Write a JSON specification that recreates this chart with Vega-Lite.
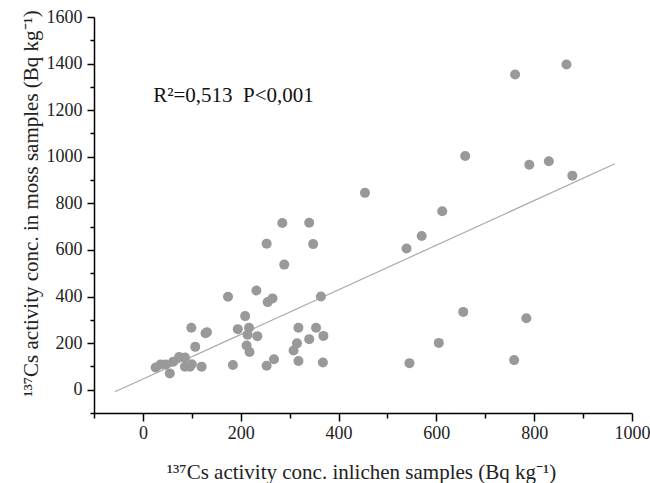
{
  "$schema": "https://vega.github.io/schema/vega-lite/v6.json",
  "width": 538,
  "height": 396,
  "autosize": "none",
  "padding": {"left": 94, "top": 17, "right": 18, "bottom": 70},
  "background": "white",
  "config": {
    "view": {"stroke": null},
    "text": {"font": "Liberation Serif"}
  },
  "datasets": {
    "points": [
      {"lichen": 26, "moss": 95}, {"lichen": 36, "moss": 108}, {"lichen": 47, "moss": 108},
      {"lichen": 55, "moss": 70}, {"lichen": 62, "moss": 120}, {"lichen": 74, "moss": 140},
      {"lichen": 86, "moss": 138}, {"lichen": 86, "moss": 99}, {"lichen": 96, "moss": 99},
      {"lichen": 100, "moss": 109}, {"lichen": 120, "moss": 99}, {"lichen": 99, "moss": 266},
      {"lichen": 107, "moss": 184}, {"lichen": 128, "moss": 242}, {"lichen": 131, "moss": 247},
      {"lichen": 174, "moss": 399}, {"lichen": 184, "moss": 106}, {"lichen": 194, "moss": 260},
      {"lichen": 209, "moss": 316}, {"lichen": 212, "moss": 190}, {"lichen": 214, "moss": 236},
      {"lichen": 217, "moss": 266}, {"lichen": 218, "moss": 162}, {"lichen": 234, "moss": 230},
      {"lichen": 232, "moss": 426}, {"lichen": 253, "moss": 627}, {"lichen": 255, "moss": 376},
      {"lichen": 265, "moss": 392}, {"lichen": 253, "moss": 103}, {"lichen": 268, "moss": 131},
      {"lichen": 285, "moss": 716}, {"lichen": 289, "moss": 537}, {"lichen": 315, "moss": 199},
      {"lichen": 308, "moss": 168}, {"lichen": 318, "moss": 266}, {"lichen": 318, "moss": 123},
      {"lichen": 340, "moss": 217}, {"lichen": 340, "moss": 717}, {"lichen": 348, "moss": 625},
      {"lichen": 354, "moss": 266}, {"lichen": 364, "moss": 400}, {"lichen": 369, "moss": 231},
      {"lichen": 368, "moss": 117}, {"lichen": 454, "moss": 845}, {"lichen": 539, "moss": 606},
      {"lichen": 545, "moss": 114}, {"lichen": 570, "moss": 660}, {"lichen": 605, "moss": 201},
      {"lichen": 612, "moss": 766}, {"lichen": 655, "moss": 334}, {"lichen": 659, "moss": 1003},
      {"lichen": 759, "moss": 127}, {"lichen": 761, "moss": 1353}, {"lichen": 784, "moss": 307},
      {"lichen": 790, "moss": 966}, {"lichen": 830, "moss": 981}, {"lichen": 866, "moss": 1396},
      {"lichen": 878, "moss": 919}
    ],
    "fit": [{"lichen": -57, "moss": -9}, {"lichen": 965, "moss": 970}],
    "note": [{"lichen": 21, "moss": 1263, "label": "R²=0,513\u00a0\u00a0P<0,001"}]
  },
  "resolve": {"axis": {"x": "independent", "y": "independent"}},
  "layer": [
    {
      "data": {"name": "fit"},
      "mark": {"type": "line", "color": "#aaaaaa", "strokeWidth": 1.2, "clip": false},
      "encoding": {
        "x": {
          "field": "lichen", "type": "quantitative",
          "scale": {"domain": [-100, 1000], "nice": false, "zero": false},
          "axis": {
            "orient": "bottom",
            "values": [-100, 100, 300, 500, 700, 900],
            "labels": false, "grid": false, "domain": false, "title": null,
            "tickColor": "#000", "tickWidth": 1.5, "tickSize": 5
          }
        },
        "y": {
          "field": "moss", "type": "quantitative",
          "scale": {"domain": [-100, 1600], "nice": false, "zero": false},
          "axis": {
            "orient": "left",
            "values": [-100, 100, 300, 500, 700, 900, 1100, 1300, 1500],
            "labels": false, "grid": false, "domain": false, "title": null,
            "tickColor": "#000", "tickWidth": 1.5, "tickSize": 4
          }
        }
      }
    },
    {
      "data": {"name": "points"},
      "mark": {"type": "circle", "size": 100, "color": "#999999", "opacity": 1},
      "encoding": {
        "x": {
          "field": "lichen", "type": "quantitative",
          "scale": {"domain": [-100, 1000], "nice": false, "zero": false},
          "axis": {
            "orient": "bottom",
            "values": [0, 200, 400, 600, 800, 1000],
            "format": "d",
            "grid": false,
            "domainColor": "#000", "domainWidth": 1.5,
            "tickColor": "#000", "tickWidth": 1.5, "tickSize": 8,
            "labelFont": "Liberation Serif", "labelFontSize": 18, "labelColor": "#222",
            "labelPadding": 3, "labelFlush": false, "labelOverlap": false,
            "title": "¹³⁷Cs activity conc. inlichen samples (Bq kg⁻¹)",
            "titleFont": "Liberation Serif", "titleFontSize": 21, "titleFontWeight": "normal", "titleColor": "#222",
            "titleX": 267, "titleY": 65, "titleAlign": "center", "titleBaseline": "alphabetic"
          }
        },
        "y": {
          "field": "moss", "type": "quantitative",
          "scale": {"domain": [-100, 1600], "nice": false, "zero": false},
          "axis": {
            "orient": "left",
            "values": [0, 200, 400, 600, 800, 1000, 1200, 1400, 1600],
            "format": "d",
            "grid": false,
            "domainColor": "#000", "domainWidth": 1.5,
            "tickColor": "#000", "tickWidth": 1.5, "tickSize": 7,
            "labelFont": "Liberation Serif", "labelFontSize": 18, "labelColor": "#222",
            "labelPadding": 5, "labelFlush": false, "labelOverlap": false,
            "title": "¹³⁷Cs activity conc. in moss samples (Bq kg⁻¹)",
            "titleFont": "Liberation Serif", "titleFontSize": 21, "titleFontWeight": "normal", "titleColor": "#222",
            "titleX": -57, "titleY": 186, "titleAngle": 270, "titleAlign": "center", "titleBaseline": "alphabetic"
          }
        }
      }
    },
    {
      "data": {"name": "note"},
      "mark": {"type": "text", "align": "left", "baseline": "middle", "font": "Liberation Serif", "fontSize": 21, "color": "#111"},
      "encoding": {
        "x": {"field": "lichen", "type": "quantitative", "axis": null},
        "y": {"field": "moss", "type": "quantitative", "axis": null},
        "text": {"field": "label"}
      }
    }
  ]
}
